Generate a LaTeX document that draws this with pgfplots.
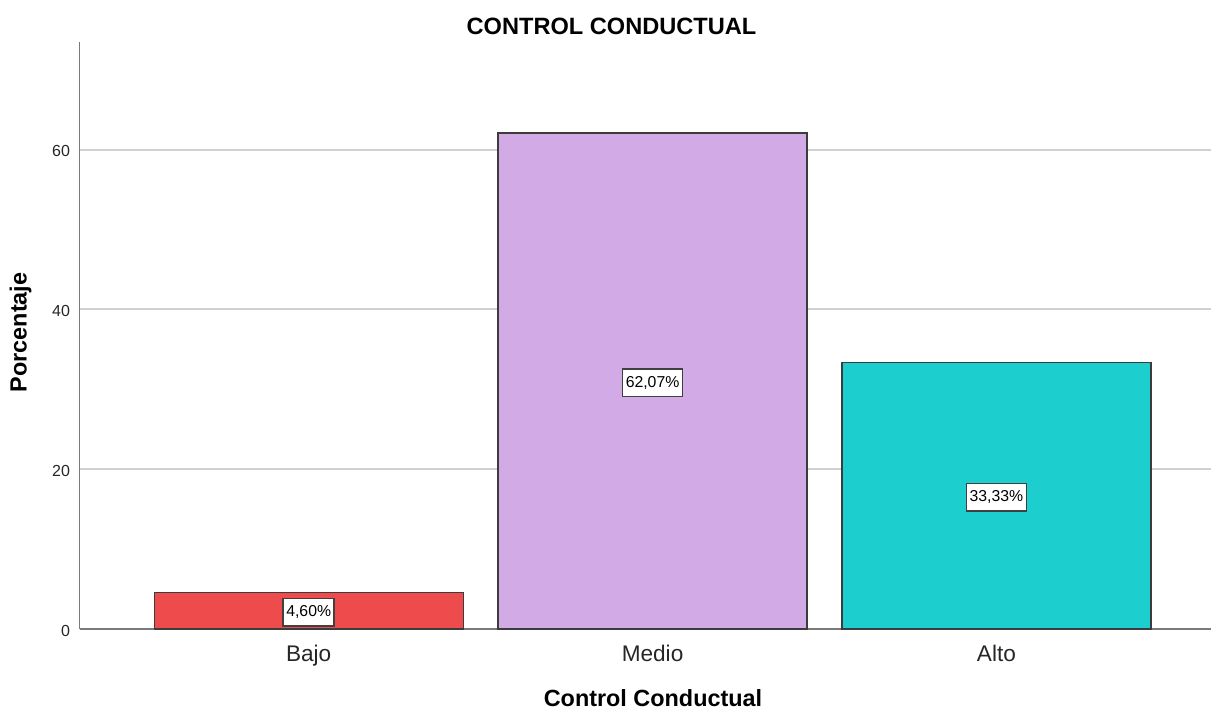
\documentclass[border=0pt]{standalone}
\usepackage{pgfplots}
\pgfplotsset{compat=1.18}
\usepackage{pgfplotstable}
\usepackage{fontspec}
\setmainfont{Liberation Sans}

\definecolor{barred}{RGB}{238,75,77}
\definecolor{barlila}{RGB}{210,170,229}
\definecolor{barcyan}{RGB}{29,206,206}
\definecolor{gridgray}{RGB}{208,208,208}
\definecolor{edgegray}{RGB}{60,60,60}

% porcentajes por categoria
\pgfplotstableread{
x  y
0  4.60
1  62.07
2  33.33
}\datos

\begin{document}
\begin{tikzpicture}
\useasboundingbox (0,0) rectangle (606pt,354.5pt);
\begin{axis}[
    at={(39.75pt,40pt)}, anchor=south west,
    scale only axis,
    width=565.75pt, height=293.65pt,
    xmin=-0.6665, xmax=2.624,
    ymin=0, ymax=73.49,
    axis x line=bottom, axis y line=left,
    axis line style={-, draw=black!52, line width=0.9pt},
    xtick={0,1,2},
    xticklabels={Bajo,Medio,Alto},
    ytick={0,20,40,60},
    major tick length=0pt,
    ymajorgrids=true,
    grid style={draw=gridgray, line width=1pt},
    /pgf/number format/assume math mode=true,
    xticklabel style={font=\fontsize{11.3}{13}\selectfont, text=black!85, anchor=base, yshift=-16pt},
    yticklabel style={font=\fontsize{8}{10}\selectfont, text=black!85, xshift=-1.25pt, yshift=-0.8pt},
    clip=false,
]
\addplot[ybar, bar width=154.5pt, bar shift=0pt, fill=barred, draw=edgegray, line width=0.6pt]
    coordinates {(0,4.60)};
\addplot[ybar, bar width=154.5pt, bar shift=0pt, fill=barlila, draw=edgegray, line width=0.6pt]
    coordinates {(1,62.07)};
\addplot[ybar, bar width=154.5pt, bar shift=0pt, fill=barcyan, draw=edgegray, line width=0.6pt]
    coordinates {(2,33.33)};
% etiquetas a media altura
\addplot[draw=none, mark=none,
    point meta=\thisrow{y},
    nodes near coords={\pgfmathprintnumber[fixed,fixed zerofill,precision=2,use comma]{\pgfplotspointmeta}\%},
    nodes near coords style={anchor=center, draw=black!75, fill=white, line width=0.8pt,
        font=\fontsize{7.9}{9}\selectfont, inner xsep=1.6pt, inner ysep=3.6pt, yshift=-0.8pt},
] table[x=x, y expr=\thisrow{y}/2] {\datos};
\end{axis}
\node[anchor=base, font=\bfseries\fontsize{11.8}{14}\selectfont] at (305.75pt,337.3pt) {CONTROL CONDUCTUAL};
\node[anchor=base, font=\bfseries\fontsize{11.7}{14}\selectfont] at (326.5pt,1.15pt) {Control Conductual};
\node[anchor=base, rotate=90, font=\bfseries\fontsize{11.7}{14}\selectfont] at (13.3pt,188.3pt) {Porcentaje};
\end{tikzpicture}
\end{document}
